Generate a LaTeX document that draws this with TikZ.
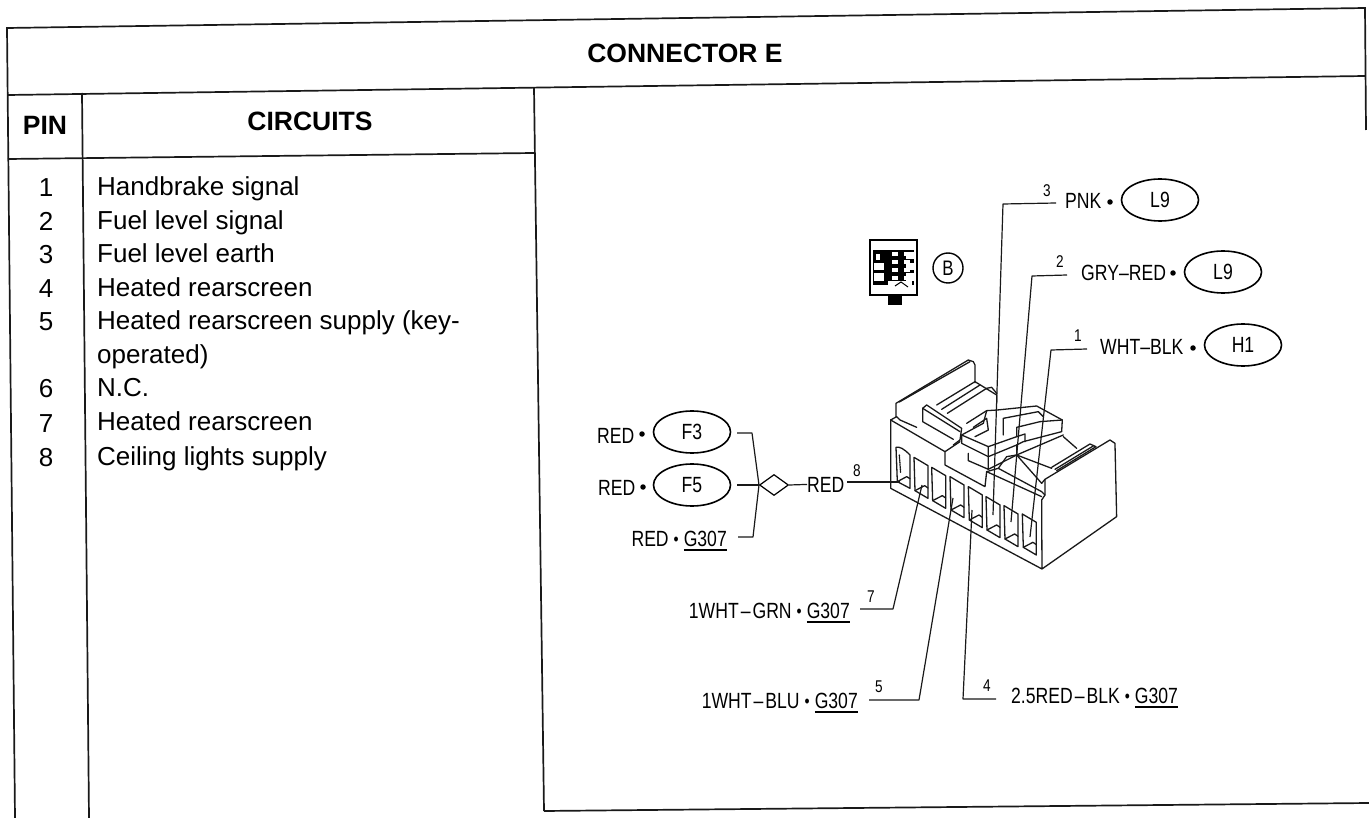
\documentclass[tikz,border=0pt]{standalone}
\usepackage{fontspec}
\setmainfont{Liberation Sans}
\newfontfamily\wirefont[FakeStretch=0.8]{Liberation Sans}
\usetikzlibrary{shapes.geometric}
\newcommand\wdot{\hspace{5pt}{\fontsize{18}{18}\selectfont\raisebox{1pt}{\textbullet}}\hspace{5pt}}
\newcommand\wdash{\hspace{2pt}–\hspace{2pt}}
\newcommand\ulx[1]{\vtop{\hbox{#1}\kern3.2pt\hrule height 1.4pt}}
\tikzset{
  rule/.style={line width=1.7pt,black!90},
  wire/.style={line width=1.2pt,black!90,line join=round},
  ink/.style={line width=1.3pt,black!90,line join=round,line cap=round},
  cell/.style={anchor=base,font=\fontsize{26}{26}\selectfont,inner sep=0pt},
  bold/.style={anchor=base,font=\fontsize{26.5}{26.5}\selectfont\bfseries,inner sep=0pt},
  txt/.style={anchor=base west,font=\fontsize{26}{26}\selectfont,inner sep=0pt},
  lab/.style={anchor=base,font=\fontsize{22}{22}\wirefont,inner sep=0pt},
  num/.style={anchor=center,font=\fontsize{17}{17}\wirefont,inner sep=0pt},
  loc/.style={draw,ellipse,line width=1.6pt,minimum width=77pt,minimum height=42pt,inner sep=0pt,font=\fontsize{22}{22}\wirefont},
  bull/.style={circle,fill=black,inner sep=0pt,minimum size=5.5pt},
}
\begin{document}
\begin{tikzpicture}[x=1pt,y=-1pt]
\useasboundingbox (0,0) rectangle (1369,818);
% table
\coordinate (tl) at (7,28); \coordinate (tr) at (1365,8);
\coordinate (ml) at (8,95); \coordinate (mr) at (1365,76);
\coordinate (hl) at (8,159); \coordinate (hr) at (534,153);
\coordinate (a0) at (82,93); \coordinate (a1) at (89,818);
\coordinate (b0) at (534,88); \coordinate (b1) at (544,811);
\coordinate (bl) at (15,818); \coordinate (br) at (1369,803);
\coordinate (c1) at (1366,130);
\draw[rule] (bl) -- (tl) -- (tr) -- (c1);
\draw[rule] (ml) -- (mr);
\draw[rule] (hl) -- (hr);
\draw[rule] (a0) -- (a1);
\draw[rule] (b0) -- (b1);
\draw[rule] (b1) -- (br);
\node[bold] (title) at (685,63) {CONNECTOR E};
\node[bold] (pin) at (45,135) {PIN};
\node[bold] (circ) at (310,131) {CIRCUITS};
\foreach \n/\y/\t in {1/197/Handbrake signal,2/231/Fuel level signal,3/264/Fuel level earth,4/298/Heated rearscreen,5/331/Heated rearscreen supply (key-,6/398/N.C.,7/432/Heated rearscreen,8/466/Ceiling lights supply}{
  \node[cell] (p\n) at (46,\y) {\n};
  \node[txt] (c\n) at (97,\y-1) {\t};
}
\node[txt] (c5b) at (97,364) {operated)};
% icon
\begin{scope}
\draw[line width=2pt,fill=white] (870,240) rectangle (917,295);
\fill[black] (873,250) rectangle (914,285);
\fill[black] (888,295) rectangle (902,305);
\foreach \y in {252,260,268,276}{
  \fill[white] (892,\y) rectangle (898,\y+4);
  \fill[white] (904,\y) rectangle (910,\y+4);
}
\fill[white] (906,252) rectangle (914,259);
\fill[white] (906,263) rectangle (914,270);
\fill[white] (874,263) rectangle (884,270);
\fill[white] (874,273) rectangle (884,281);
\fill[white] (906,273) rectangle (914,281);
\fill[white] (888,281) rectangle (912,288);
\draw[line width=1pt] (895,286) -- (901,282) -- (908,287);
\fill[white] (876,254) rectangle (880,260);
\end{scope}
\node[draw,circle,line width=1.4pt,minimum size=30pt,inner sep=0pt,font=\fontsize{21}{21}\wirefont] (bcirc) at (948,268) {B};
% connector body (zoomed coordinates)
\begin{scope}[shift={(860,340)},x=0.3333pt,y=-0.3333pt,ink]
\fill[white] (92,240) -- (92,445) -- (546,687) -- (770,530) -- (765,310) -- (750,300) -- (555,415) -- cycle;
\draw (108,230) -- (108,190) -- (325,60) -- (340,65) -- (345,75) -- (345,128);
\draw (118,186) -- (330,65);
\draw (92,240) -- (110,230) -- (120,240) -- (170,262);
\draw (92,240) -- (92,445) -- (546,687) -- (770,530) -- (765,310) -- (750,300) -- (555,418) -- (555,465) -- (545,480) -- (546,687);
\draw (92,240) -- (255,335) -- (255,375) -- (375,440) -- (380,395) -- (545,470);
\draw (555,418) -- (545,430) -- (470,345) -- (440,350) -- (415,385) -- (380,395);
\draw (415,385) -- (545,455) -- (555,465);
\draw (255,335) -- (300,305);
\draw (188,205) -- (200,195) -- (305,265) -- (300,300) -- (280,315);
\draw (188,205) -- (188,245) -- (280,298);
\draw (188,205) -- (300,275);
\draw (230,195) -- (345,125) -- (410,165) -- (410,190);
\draw (245,208) -- (360,135);
\draw (262,220) -- (380,145) -- (395,142) -- (410,160);
\draw (320,250) -- (380,212);
\draw (340,262) -- (380,235) -- (385,270) -- (345,290);
\draw (305,285) -- (370,250) -- (380,212) -- (412,210) -- (530,198) -- (607,240) -- (605,275) -- (490,305) -- (470,315) -- (385,350) -- (305,310) -- cycle;
\draw (305,285) -- (385,320) -- (385,350);
\draw (385,320) -- (470,290) -- (470,262) -- (540,245) -- (607,240);
\draw (430,285) -- (430,235) -- (535,215) -- (550,230);
\draw (470,290) -- (495,282) -- (495,305);
\draw (325,340) -- (325,362) -- (385,388) -- (385,350);
\draw (385,388) -- (470,345) -- (470,315);
\draw (470,345) -- (610,285);
\draw (470,345) -- (575,385);
\draw (610,290) -- (650,325);
\draw (575,382) -- (690,312) -- (708,320) -- (590,392);
\draw (585,388) -- (700,318);
\foreach \x/\y in {162/352,215/382,270/410,325/440,378/470,432/497,487/522}{
  \draw (\x,\y) -- (\x+42,\y+25) -- (\x+42,\y+123) -- (\x+3,\y+100) -- cycle;
  \draw (\x+3,\y+100) -- (\x+32,\y+85) -- (\x+42,\y+92);
}
\draw (108,322) .. controls (120,320) and (130,325) .. (150,345) -- (150,445) -- (112,425) -- (108,322);
\draw (112,425) -- (140,410) -- (150,416);
\draw[densely dotted] (118,345) -- (122,400);
\end{scope}
% circuits labels
\node[loc] (f3) at (692,432) {F3};
\node[loc] (f5) at (692,485) {F5};
\node[lab,anchor=base west] (r3) at (597,443) {RED};
\node[lab,anchor=base west] (r5) at (598,495) {RED};
\node[bull] (d3) at (642,434) {};
\node[bull] (d5) at (643,487) {};
\node[lab,anchor=base east] (g0) at (727,546) {RED\wdot\ulx{G307}};
\coordinate (k1) at (737,433); \coordinate (k1b) at (752,433);
\coordinate (k2) at (737,485); \coordinate (j) at (759,485);
\coordinate (k3) at (738,537); \coordinate (k3b) at (753,537);
\draw[wire] (k1) -- (k1b) -- (j) -- (k3b) -- (k3);
\draw[wire,line width=1.6pt] (k2) -- (j);
\node[draw,diamond,line width=1.2pt,minimum width=29pt,minimum height=21pt,inner sep=0pt] (dm) at (774,485) {};
\node[lab,anchor=base west] (r8) at (807,492) {RED};
\draw[wire] (dm.east) -- (r8.west);
\node[num] (n8) at (857,471) {8};
\coordinate (w8a) at (847,482); \coordinate (w8b) at (900,482);
\draw[wire,line width=1.6pt] (w8a) -- (w8b);
% seven
\node[lab,anchor=base east] (g7) at (850,618) {1WHT\wdash GRN\wdot\ulx{G307}};
\node[num] (n7) at (871,597) {7};
\coordinate (w7a) at (860,609); \coordinate (w7b) at (893,609); \coordinate (w7c) at (922,485);
\draw[wire] (w7a) -- (w7b) -- (w7c);
% five
\node[lab,anchor=base east] (g5) at (858,708) {1WHT\wdash BLU\wdot\ulx{G307}};
\node[num] (n5) at (879,687) {5};
\coordinate (w5a) at (869,700); \coordinate (w5b) at (919,700); \coordinate (w5c) at (953,498);
\draw[wire] (w5a) -- (w5b) -- (w5c);
% four
\node[lab,anchor=base west] (g4) at (1011,703) {2.5RED\wdash BLK\wdot\ulx{G307}};
\node[num] (n4) at (987,686) {4};
\coordinate (w4a) at (996,699); \coordinate (w4b) at (963,699); \coordinate (w4c) at (972,510);
\draw[wire] (w4a) -- (w4b) -- (w4c);
% three
\node[lab,anchor=base west] (t3) at (1065,209) {PNK};
\node[bull] at (1110,202) {};
\node[loc] (l9a) at (1160,200) {L9};
\node[num] (n3) at (1047,191) {3};
\coordinate (w3a) at (1056,203); \coordinate (w3b) at (1003,204); \coordinate (w3c) at (993,515);
\draw[wire] (w3a) -- (w3b) -- (w3c);
% two
\node[lab,anchor=base west] (t2) at (1081,281) {GRY–RED};
\node[bull] at (1173,273) {};
\node[loc] (l9b) at (1223,272) {L9};
\node[num] (n2) at (1060,262) {2};
\coordinate (w2a) at (1067,275); \coordinate (w2b) at (1032,276); \coordinate (w2c) at (1011,522);
\draw[wire] (w2a) -- (w2b) -- (w2c);
% one
\node[lab,anchor=base west] (t1) at (1100,355) {WHT–BLK};
\node[bull] at (1193,348) {};
\node[loc] (h1) at (1243,345) {H1};
\node[num] (n1) at (1078,336) {1};
\coordinate (w1a) at (1087,349); \coordinate (w1b) at (1051,350); \coordinate (w1c) at (1030,537);
\draw[wire] (w1a) -- (w1b) -- (w1c);
\end{tikzpicture}
\end{document}
